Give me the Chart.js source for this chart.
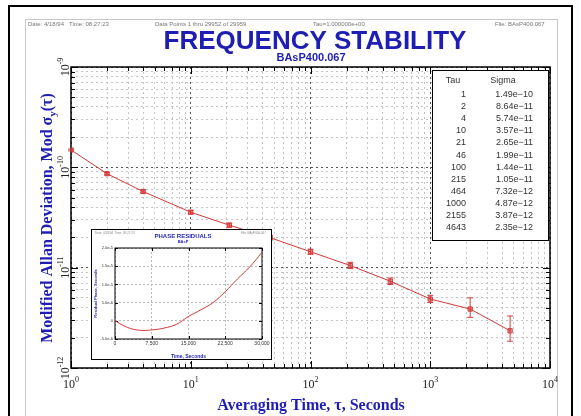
<!DOCTYPE html>
<html>
<head>
<meta charset="utf-8">
<script src="https://cdn.jsdelivr.net/npm/chart.js@4.4.0/dist/chart.umd.min.js"></script>
<style>
    html, body { margin: 0; padding: 0; background: #fff; }
    #wrap { position: relative; width: 581px; height: 416px; overflow: hidden; }
    #mainChart { position: absolute; left: 0; top: 0; }
    #insetChart { position: absolute; left: 91px; top: 229px; }
</style>
</head>
<body>
<div id="wrap">
    <canvas id="mainChart" width="581" height="416"></canvas>
    <canvas id="insetChart" width="181" height="131"></canvas>
</div>
<script>
// stability table (tau in seconds, mod sigma)
const tau = [1, 2, 4, 10, 21, 46, 100, 215, 464, 1000, 2155, 4643];
const sigma = [1.49e-10, 8.64e-11, 5.74e-11, 3.57e-11, 2.65e-11, 1.99e-11, 1.44e-11, 1.05e-11, 7.32e-12, 4.87e-12, 3.87e-12, 2.35e-12];
const sigmaHi = [1.52e-10, 8.9e-11, 5.95e-11, 3.72e-11, 2.78e-11, 2.1e-11, 1.53e-11, 1.13e-11, 7.9e-12, 5.3e-12, 5.0e-12, 3.3e-12];
const sigmaLo = [1.46e-10, 8.4e-11, 5.55e-11, 3.43e-11, 2.53e-11, 1.89e-11, 1.36e-11, 0.98e-11, 6.8e-12, 4.5e-12, 3.2e-12, 1.85e-12];

const xDecades = [0, 1, 2, 3, 4];
const yDecades = [-12, -11, -10, -9];

// phase residuals inset
const insetTime = [0, 2500, 5000, 7500, 10000, 12500, 15000, 17500, 20000, 22500, 25000, 27500, 30000];
const insetPhase = [0, -1.8e-6, -2.6e-6, -2.5e-6, -2.0e-6, -1.0e-6, 1.2e-6, 3.0e-6, 5.0e-6, 8.0e-6, 11.5e-6, 14.8e-6, 18.8e-6];
const insetTimeTicks = [0, 7500, 15000, 22500, 30000];
const insetPhaseTicks = [-5e-6, 0, 5e-6, 1e-5, 1.5e-5, 2e-5];

const headerTexts = [
    ["Date: 4/18/94   Time: 08:27:23", 28],
    ["Data Points 1 thru 29952 of 29959", 155],
    ["Tau=1.000000e+00", 313],
    ["File: BAsP400.067", 495]
];

const RED = "#d43a3a";
const BLUE = "#1e1eb4";
const SERIF = "'Liberation Serif', 'DejaVu Serif', serif";
const SANS = "'Liberation Sans', Arial, sans-serif";

function logTicks(lo, hi) {
    const ticks = [];
    for (let e = lo; e < hi; e++) {
        for (let m = 1; m < 10; m++) {
            ticks.push({ value: m * Math.pow(10, e), major: m === 1 });
        }
    }
    ticks.push({ value: Math.pow(10, hi), major: true });
    return ticks;
}

function drawPower(ctx, exp, x, y) {
    const base = "10";
    const sup = String(exp);
    ctx.font = "12px " + SERIF;
    const wb = ctx.measureText(base).width;
    ctx.font = "8px " + SERIF;
    const ws = ctx.measureText(sup).width;
    const start = x - (wb + ws) / 2;
    ctx.textAlign = "left";
    ctx.textBaseline = "alphabetic";
    ctx.font = "12px " + SERIF;
    ctx.fillText(base, start, y);
    ctx.font = "8px " + SERIF;
    ctx.fillText(sup, start + wb, y - 6);
}

function drawInwardTicks(ctx, area, xs, ys, major, minor) {
    ctx.beginPath();
    xs.ticks.forEach(t => {
        const px = Math.round(xs.getPixelForValue(t.value)) + 0.5;
        const len = t.major ? major : minor;
        ctx.moveTo(px, area.bottom); ctx.lineTo(px, area.bottom - len);
        ctx.moveTo(px, area.top); ctx.lineTo(px, area.top + len);
    });
    ys.ticks.forEach(t => {
        const py = Math.round(ys.getPixelForValue(t.value)) + 0.5;
        const len = t.major ? major : minor;
        ctx.moveTo(area.left, py); ctx.lineTo(area.left + len, py);
        ctx.moveTo(area.right, py); ctx.lineTo(area.right - len, py);
    });
    ctx.stroke();
}

const mainDecor = {
    id: "mainDecor",
    beforeDraw(chart) {
        const ctx = chart.ctx;
        ctx.save();
        ctx.fillStyle = "#fff";
        ctx.fillRect(0, 0, chart.width, chart.height);
        // outer frames
        ctx.strokeStyle = "#000";
        ctx.lineWidth = 2;
        ctx.strokeRect(9, 6, 563, 412);
        ctx.strokeStyle = "#c8c8c8";
        ctx.lineWidth = 1;
        ctx.strokeRect(25.5, 19.5, 532, 400);
        // header line
        ctx.fillStyle = "#777";
        ctx.font = "6px " + SANS;
        ctx.textBaseline = "alphabetic";
        headerTexts.forEach(h => ctx.fillText(h[0], h[1], 26));
        // titles
        ctx.fillStyle = BLUE;
        ctx.textAlign = "center";
        ctx.font = "bold 26px " + SANS;
        ctx.fillText("FREQUENCY STABILITY", 315, 49);
        ctx.font = "bold 11px " + SANS;
        ctx.fillText("BAsP400.067", 311, 61);
        ctx.restore();
    },
    beforeDatasetsDraw(chart) {
        const ctx = chart.ctx;
        const a = chart.chartArea;
        ctx.save();
        ctx.strokeStyle = "#000";
        ctx.lineWidth = 1;
        drawInwardTicks(ctx, a, chart.scales.x, chart.scales.y, 7, 4);
        ctx.lineWidth = 1.5;
        ctx.strokeRect(a.left, a.top, a.right - a.left, a.bottom - a.top);
        ctx.restore();
    },
    afterDatasetsDraw(chart) {
        const ctx = chart.ctx;
        const xs = chart.scales.x;
        const ys = chart.scales.y;
        ctx.save();
        ctx.strokeStyle = RED;
        ctx.lineWidth = 1;
        ctx.beginPath();
        tau.forEach((t, i) => {
            const px = xs.getPixelForValue(t);
            const yh = ys.getPixelForValue(sigmaHi[i]);
            const yl = ys.getPixelForValue(sigmaLo[i]);
            ctx.moveTo(px, yh); ctx.lineTo(px, yl);
            ctx.moveTo(px - 3, yh); ctx.lineTo(px + 3, yh);
            ctx.moveTo(px - 3, yl); ctx.lineTo(px + 3, yl);
        });
        ctx.stroke();
        ctx.restore();
    },
    afterDraw(chart) {
        const ctx = chart.ctx;
        const xs = chart.scales.x;
        const ys = chart.scales.y;
        ctx.save();
        ctx.fillStyle = "#222";
        xDecades.forEach(e => drawPower(ctx, e, xs.getPixelForValue(Math.pow(10, e)), 388));
        yDecades.forEach(e => {
            ctx.save();
            ctx.translate(69, ys.getPixelForValue(Math.pow(10, e)));
            ctx.rotate(-Math.PI / 2);
            drawPower(ctx, e, 0, 0);
            ctx.restore();
        });

        // axis titles
        ctx.fillStyle = BLUE;
        ctx.textAlign = "center";
        ctx.font = "bold 16px " + SERIF;
        ctx.fillText("Averaging Time, \u03c4, Seconds", 311, 410);

        ctx.save();
        ctx.translate(52, 218);
        ctx.rotate(-Math.PI / 2);
        const t1 = "Modified Allan Deviation, Mod \u03c3";
        const t2 = "y";
        const t3 = "(\u03c4)";
        ctx.font = "bold 16px " + SERIF;
        const w1 = ctx.measureText(t1).width;
        const w3 = ctx.measureText(t3).width;
        ctx.font = "bold 11px " + SERIF;
        const w2 = ctx.measureText(t2).width;
        let x0 = -(w1 + w2 + w3) / 2;
        ctx.textAlign = "left";
        ctx.font = "bold 16px " + SERIF;
        ctx.fillText(t1, x0, 0);
        ctx.font = "bold 11px " + SERIF;
        ctx.fillText(t2, x0 + w1, 4);
        ctx.font = "bold 16px " + SERIF;
        ctx.fillText(t3, x0 + w1 + w2, 0);
        ctx.restore();

        // tau / sigma table
        ctx.fillStyle = "#fff";
        ctx.fillRect(432, 70, 116, 170);
        ctx.strokeStyle = "#000";
        ctx.lineWidth = 1;
        ctx.strokeRect(432.5, 70.5, 116, 170);
        ctx.fillStyle = "#333";
        ctx.font = "9px " + SANS;
        ctx.textAlign = "center";
        ctx.fillText("Tau", 453, 83);
        ctx.fillText("Sigma", 503, 83);
        ctx.textAlign = "right";
        tau.forEach((t, i) => {
            const y = 97 + i * 12.1;
            ctx.fillText(String(t), 466, y);
            ctx.fillText(sigma[i].toExponential(2).replace("e-", "e\u2212"), 533, y);
        });
        ctx.restore();
    }
};

const mainCtx = document.getElementById("mainChart").getContext("2d");
new Chart(mainCtx, {
    type: "line",
    data: {
        datasets: [{
            data: tau.map((t, i) => ({ x: t, y: sigma[i] })),
            borderColor: RED,
            borderWidth: 1,
            pointStyle: "rect",
            pointRadius: 3,
            pointBackgroundColor: "rgba(212,58,58,0.5)",
            pointBorderColor: RED,
            tension: 0
        }]
    },
    options: {
        responsive: false,
        animation: false,
        layout: { padding: { left: 71, top: 67, right: 31, bottom: 48 } },
        plugins: { legend: { display: false }, tooltip: { enabled: false } },
        scales: {
            x: {
                type: "logarithmic",
                min: 1,
                max: 10000,
                afterBuildTicks: s => { s.ticks = logTicks(0, 4); },
                afterFit: s => { s.height = 0; },
                ticks: { display: false },
                grid: {
                    drawTicks: false,
                    color: c => (c.tick && c.tick.major) ? "#555" : "#c4c4c4",
                    lineWidth: 1
                },
                border: { display: false, dash: [2, 3] }
            },
            y: {
                type: "logarithmic",
                min: 1e-12,
                max: 1e-9,
                afterBuildTicks: s => { s.ticks = logTicks(-12, -9); },
                afterFit: s => { s.width = 0; },
                ticks: { display: false },
                grid: {
                    drawTicks: false,
                    color: c => (c.tick && c.tick.major) ? "#555" : "#c4c4c4",
                    lineWidth: 1
                },
                border: { display: false, dash: [2, 3] }
            }
        }
    },
    plugins: [mainDecor]
});

// inset chart
const insetDecor = {
    id: "insetDecor",
    beforeDraw(chart) {
        const ctx = chart.ctx;
        ctx.save();
        ctx.fillStyle = "#fff";
        ctx.fillRect(0, 0, chart.width, chart.height);
        ctx.strokeStyle = "#000";
        ctx.lineWidth = 1;
        ctx.strokeRect(0.5, 0.5, chart.width - 1, chart.height - 1);
        ctx.fillStyle = "#888";
        ctx.font = "3px " + SANS;
        ctx.fillText("Date: 4/18/94  Time: 08:27:23", 4, 5);
        ctx.fillText("File: BAsP400.067", 150, 5);
        ctx.fillStyle = BLUE;
        ctx.textAlign = "center";
        ctx.font = "bold 6px " + SANS;
        ctx.fillText("PHASE RESIDUALS", 92, 9);
        ctx.font = "bold 4px " + SANS;
        ctx.fillText("BAsP", 92, 14);
        ctx.restore();
    },
    beforeDatasetsDraw(chart) {
        const ctx = chart.ctx;
        const a = chart.chartArea;
        ctx.save();
        ctx.strokeStyle = "#000";
        ctx.lineWidth = 1;
        drawInwardTicks(ctx, a, chart.scales.x, chart.scales.y, 3, 3);
        ctx.strokeRect(a.left, a.top, a.right - a.left, a.bottom - a.top);
        ctx.restore();
    }
};

const insetCtx = document.getElementById("insetChart").getContext("2d");
new Chart(insetCtx, {
    type: "line",
    data: {
        datasets: [{
            data: insetTime.map((t, i) => ({ x: t, y: insetPhase[i] })),
            borderColor: RED,
            borderWidth: 1,
            pointRadius: 0,
            tension: 0.4
        }]
    },
    options: {
        responsive: false,
        animation: false,
        layout: { padding: { left: 2, top: 19, right: 10, bottom: 0 } },
        plugins: { legend: { display: false }, tooltip: { enabled: false } },
        scales: {
            x: {
                type: "linear",
                min: 0,
                max: 30000,
                afterBuildTicks: s => { s.ticks = insetTimeTicks.map(v => ({ value: v })); },
                afterFit: s => { s.height = 21; },
                ticks: { font: { size: 5, family: SANS }, color: "#333", maxRotation: 0, padding: 2 },
                grid: { drawTicks: false, color: "#bbb" },
                border: { display: false, dash: [2, 2] },
                title: { display: true, text: "Time, Seconds", color: BLUE, font: { size: 5, weight: "bold", family: SANS }, padding: 0 }
            },
            y: {
                type: "linear",
                min: -5e-6,
                max: 2e-5,
                afterBuildTicks: s => { s.ticks = insetPhaseTicks.map(v => ({ value: v })); },
                afterFit: s => { s.width = 22; },
                ticks: {
                    font: { size: 4, family: SANS },
                    color: "#333",
                    padding: 2,
                    callback: v => v === 0 ? "0" : v.toExponential(1)
                },
                grid: { drawTicks: false, color: "#bbb" },
                border: { display: false, dash: [2, 2] },
                title: { display: true, text: "Residual Phase, Seconds", color: BLUE, font: { size: 4, weight: "bold", family: SANS }, padding: 0 }
            }
        }
    },
    plugins: [insetDecor]
});
</script>
</body>
</html>
